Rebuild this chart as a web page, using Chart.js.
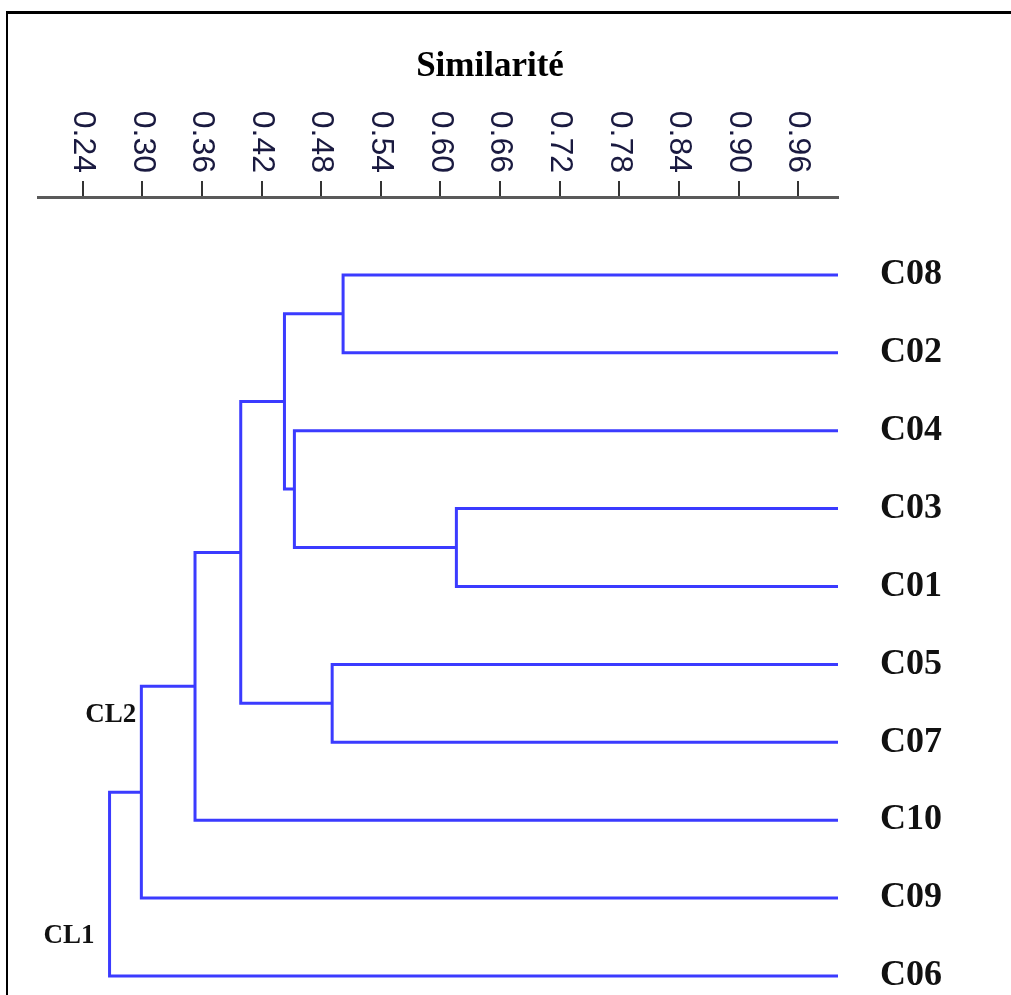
<!DOCTYPE html>
<html><head><meta charset="utf-8">
<script src="https://cdn.jsdelivr.net/npm/chart.js@4.4.1/dist/chart.umd.min.js"></script>
<style>
html,body{margin:0;padding:0;background:#fff;overflow:hidden;width:1011px;height:995px}
#frame{position:absolute;left:6px;top:11px;right:-10px;bottom:-10px;border-left:2px solid #000;border-top:3px solid #000;}
#c{position:absolute;left:0;top:0}
</style></head><body>
<div id="frame"></div>
<canvas id="c" width="1011" height="995"></canvas>
<script>
// ---- data ----
const leaves = ['C08','C02','C04','C03','C01','C05','C07','C10','C09','C06'];
const leafSimilarity = 1.0;
// merges: children (0-9 = leaves, 10+ = earlier merges in order) and similarity level
const mergeLeft  = [0, 3, 2, 10, 5, 13, 15, 16, 17];
const mergeRight = [1, 4, 11, 12, 6, 14, 7, 8, 9];
const mergeSimilarity = [0.502, 0.616, 0.453, 0.443, 0.491, 0.399, 0.353, 0.299, 0.267];
const tickValues = [0.24, 0.30, 0.36, 0.42, 0.48, 0.54, 0.60, 0.66, 0.72, 0.78, 0.84, 0.90, 0.96];
const tickLabels = ['0.24','0.30','0.36','0.42','0.48','0.54','0.60','0.66','0.72','0.78','0.84','0.90','0.96'];
const clusterLabels = ['CL2', 'CL1'];
const clusterNodes = [17, 18];
const axisTitle = 'Similarité';

// ---- build tree geometry (positions from leaf order) ----
const nodeSim = leaves.map(() => leafSimilarity);
const nodeY = leaves.map((_, i) => i);
const datasets = [];
for (let m = 0; m < mergeSimilarity.length; m++) {
  const a = mergeLeft[m], b = mergeRight[m], s = mergeSimilarity[m];
  datasets.push({
    data: [
      {x: nodeSim[a], y: nodeY[a]},
      {x: s, y: nodeY[a]},
      {x: s, y: nodeY[b]},
      {x: nodeSim[b], y: nodeY[b]}
    ],
    showLine: true, borderColor: '#3b3bff', borderWidth: 3, pointRadius: 0,
    borderJoinStyle: 'miter', borderCapStyle: 'butt', tension: 0, clip: false
  });
  nodeSim.push(s);
  nodeY.push((nodeY[a] + nodeY[b]) / 2);
}

const labelPlugin = {
  id: 'labels',
  afterDraw(chart) {
    const ctx = chart.ctx, xs = chart.scales.x, ys = chart.scales.y;
    ctx.save();
    ctx.fillStyle = '#1a1a40';
    ctx.font = '32px "Liberation Sans", Arial, sans-serif';
    ctx.textAlign = 'right';
    ctx.textBaseline = 'middle';
    tickValues.forEach((v, i) => {
      ctx.save();
      ctx.translate(xs.getPixelForValue(v), chart.chartArea.top - 24);
      ctx.rotate(Math.PI / 2);
      ctx.fillText(tickLabels[i], 0, 0);
      ctx.restore();
    });
    // cluster labels
    ctx.fillStyle = '#111';
    ctx.font = 'bold 27px "Liberation Serif", "Times New Roman", serif';
    ctx.textBaseline = 'alphabetic';
    const offs = [[-5, 0.46], [-15, 1.93]];
    clusterLabels.forEach((t, i) => {
      const n = clusterNodes[i];
      const m = n - leaves.length;
      const top = nodeY[mergeLeft[m]];
      ctx.fillText(t, xs.getPixelForValue(nodeSim[n]) + offs[i][0], ys.getPixelForValue(top + offs[i][1]));
    });
    ctx.restore();
  }
};

new Chart(document.getElementById('c'), {
  type: 'scatter',
  data: { datasets },
  options: {
    responsive: false,
    animation: false,
    events: [],
    layout: { padding: { left: 38, right: 69, top: 0, bottom: 0 } },
    plugins: {
      legend: { display: false },
      tooltip: { enabled: false },
      title: {
        display: true, text: axisTitle, color: '#000',
        font: { family: '"Liberation Serif", "Times New Roman", serif', size: 35, weight: 'bold' },
        padding: { top: 46, bottom: 0 }
      }
    },
    scales: {
      x: {
        type: 'linear', position: 'top', min: 0.195, max: 1.0,
        afterBuildTicks: (s) => { s.ticks = tickValues.map(v => ({ value: v })); },
        afterFit: (s) => { s.height = 109; },
        ticks: { display: false },
        grid: { display: true, drawOnChartArea: false, drawTicks: true, tickLength: 16, color: '#333', lineWidth: 2 },
        border: { display: true, color: '#5a5a5a', width: 3 }
      },
      y: {
        type: 'linear', position: 'right', reverse: true, min: -1.0, max: 9.013,
        afterBuildTicks: (s) => { s.ticks = leaves.map((_, i) => ({ value: i })); },
        afterFit: (s) => { s.width = 104; },
        ticks: {
          padding: 0, color: '#111', autoSkip: false,
          font: { family: '"Liberation Serif", "Times New Roman", serif', size: 36, weight: 'bold', lineHeight: 1 },
          callback: (v) => leaves[v]
        },
        grid: { display: true, drawOnChartArea: false, drawTicks: true, tickLength: 42, color: 'rgba(0,0,0,0)' },
        border: { display: false }
      }
    }
  },
  plugins: [labelPlugin]
});
</script>
</body></html>
